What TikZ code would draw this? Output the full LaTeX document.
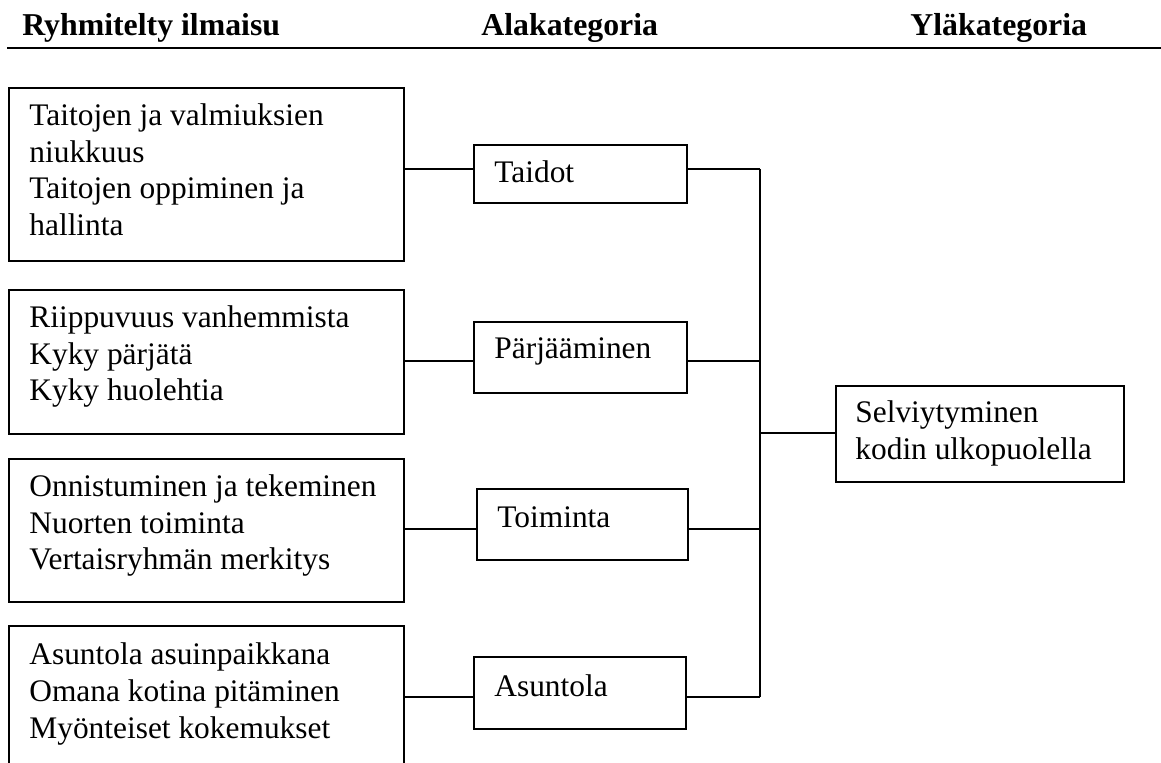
\documentclass[tikz,border=0pt]{standalone}
\usepackage{fontspec}
\setmainfont{Liberation Serif}
\begin{document}
\begin{tikzpicture}[x=0.5pt,y=-0.5pt,
  box/.style={draw, line width=0.9pt, rectangle, inner sep=0pt, anchor=north west},
  txt/.style={anchor=base west, inner sep=0pt, font=\fontsize{15.7}{18.25}\selectfont},
  hdr/.style={anchor=base west, inner sep=0pt, font=\fontsize{15.9}{18.25}\selectfont\bfseries},
  conn/.style={line width=0.9pt}]
\useasboundingbox (0,0) rectangle (1161,763);

% headers
\node[hdr] (h1) at (22,36) {Ryhmitelty ilmaisu};
\node[hdr] (h2) at (481,36) {Alakategoria};
\node[hdr] (h3) at (910,36) {Yläkategoria};
\coordinate (hl) at (7,48);
\coordinate (hr) at (1161,48);
\draw[line width=1.1pt] (hl) -- (hr);

% left boxes
\node[box, minimum width=197.5pt, minimum height=86.5pt] (b1) at (8,87) {};
\node[box, minimum width=197.5pt, minimum height=72pt] (b2) at (8,289) {};
\node[box, minimum width=197.5pt, minimum height=71.5pt] (b3) at (8,458) {};
\node[box, minimum width=197.5pt, minimum height=85pt] (b4) at (8,625) {};

\node[txt] (t1) at (29,126) {\parbox[t]{190pt}{\raggedright Taitojen ja valmiuksien\\niukkuus\\Taitojen oppiminen ja\\hallinta}};
\node[txt] (t2) at (29,328) {\parbox[t]{190pt}{\raggedright Riippuvuus vanhemmista\\Kyky pärjätä\\Kyky huolehtia}};
\node[txt] (t3) at (29,497) {\parbox[t]{190pt}{\raggedright Onnistuminen ja tekeminen\\Nuorten toiminta\\Vertaisryhmän merkitys}};
\node[txt] (t4) at (29,665) {\parbox[t]{190pt}{\raggedright Asuntola asuinpaikkana\\Omana kotina pitäminen\\Myönteiset kokemukset}};

% middle boxes
\node[box, minimum width=106.5pt, minimum height=29pt] (s1) at (473,144) {};
\node[box, minimum width=106.5pt, minimum height=35.5pt] (s2) at (473,321) {};
\node[box, minimum width=105.5pt, minimum height=35.5pt] (s3) at (476,488) {};
\node[box, minimum width=106pt, minimum height=36pt] (s4) at (473,656) {};

\node[txt] (u1) at (494,183) {Taidot};
\node[txt] (u2) at (494,359) {Pärjääminen};
\node[txt] (u3) at (497,528) {Toiminta};
\node[txt] (u4) at (494,697) {Asuntola};

% right box
\node[box, minimum width=144pt, minimum height=48pt] (r) at (835,385) {};
\node[txt] (rt) at (855,423) {\parbox[t]{140pt}{\raggedright Selviytyminen\\kodin ulkopuolella}};

% connector coordinates
\coordinate (y1) at (0,169);
\coordinate (y2) at (0,361);
\coordinate (y3) at (0,529);
\coordinate (y4) at (0,697);
\coordinate (ttop) at (760,169);
\coordinate (tbot) at (760,697);
\coordinate (tmid) at (760,433);

% left connectors
\draw[conn] (b1.east |- y1) -- (s1.west |- y1);
\draw[conn] (b2.east |- y2) -- (s2.west |- y2);
\draw[conn] (b3.east |- y3) -- (s3.west |- y3);
\draw[conn] (b4.east |- y4) -- (s4.west |- y4);

% right connectors
\draw[conn] (s1.east |- y1) -- (ttop);
\draw[conn] (s2.east |- y2) -- (ttop |- y2);
\draw[conn] (s3.east |- y3) -- (ttop |- y3);
\draw[conn] (s4.east |- y4) -- (tbot);
\draw[conn] (ttop) -- (tbot);
\draw[conn] (tmid) -- (r.west |- tmid);
\end{tikzpicture}
\end{document}
